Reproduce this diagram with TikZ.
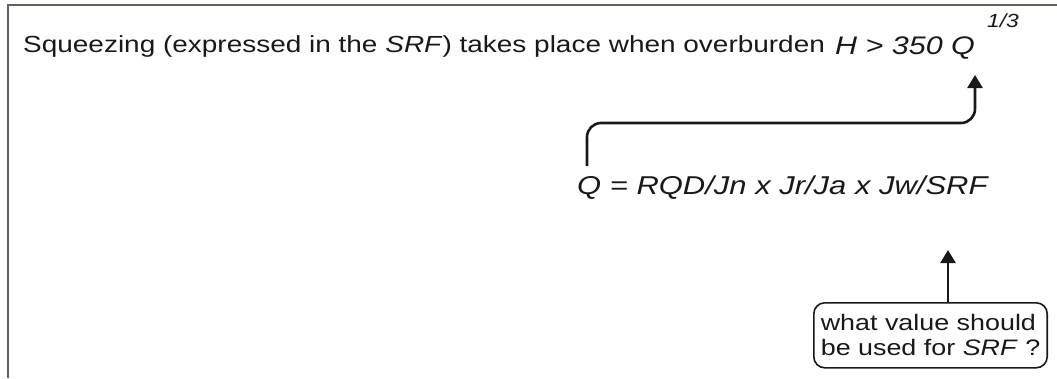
\documentclass[tikz,border=0pt]{standalone}
\usepackage{fontspec}
\setmainfont{Liberation Sans}[FakeStretch=1.2]
\usetikzlibrary{arrows.meta}
\definecolor{framegray}{RGB}{100,96,92}
\definecolor{ink}{RGB}{25,25,25}
\tikzset{
  txt/.style={inner sep=0pt, anchor=base west, text=ink},
  conn/.style={draw=ink, line width=2.6pt, -{Triangle[length=13pt,width=15pt]}},
  qbox/.style={draw=ink, line width=1.6pt, rounded corners=11pt, inner xsep=7pt, inner ysep=0pt,
    minimum height=65pt, align=left, text=ink}
}
\begin{document}
\begin{tikzpicture}[x=1pt,y=-1pt]
\useasboundingbox (0,0) rectangle (1057,378);
% frame
\draw[framegray, line width=2pt] (8,378) -- (8,5) -- (1057,5);
% first line
\node[txt, font=\fontsize{23.3}{28}\selectfont] (l1) at (23,52)
  {Squeezing (expressed in the \textit{SRF}) takes place when overburden};
\node[txt, font=\fontsize{25.4}{30}\selectfont\itshape] (hq) at (835,54) {H > 350 Q};
\node[txt, font=\fontsize{19}{22}\selectfont\itshape] (exp) at (987,27) {1/3};
% formula
\node[txt, font=\fontsize{25.8}{30}\selectfont\itshape] (form) at (577,194)
  {Q = RQD/Jn x Jr/Ja x Jw/SRF};
% question box
\node[qbox, font=\fontsize{22.4}{25}\selectfont, anchor=north east] (box) at (1048,302)
  {what value should\\be used for \textit{SRF} ?};
% connectors
\coordinate (a1s) at (587,166);
\coordinate (a1e) at (975,75);
\draw[conn, rounded corners=14pt] (a1s) |- (a1e |- 0,123) -- (a1e);
\coordinate (a2e) at (948,250);
\draw[conn] (box.north -| a2e) -- (a2e);
\end{tikzpicture}
\end{document}
